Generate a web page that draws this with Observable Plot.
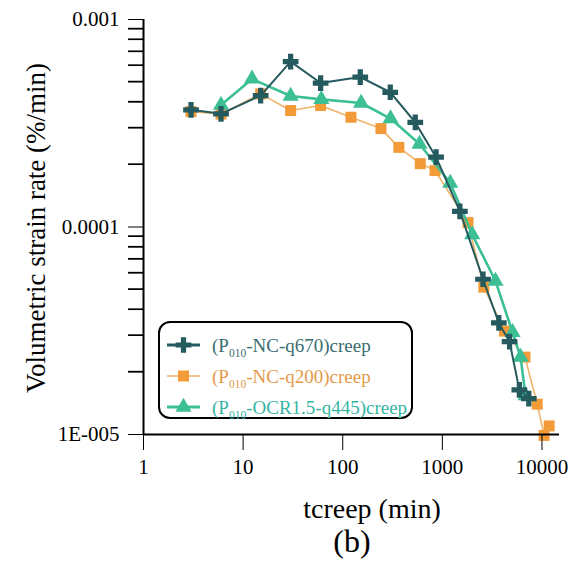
<!DOCTYPE html>
<html><head><meta charset="utf-8">
<script src="https://cdn.jsdelivr.net/npm/d3@7"></script>
<script src="https://cdn.jsdelivr.net/npm/@observablehq/plot@0.6"></script>
<style>body{margin:0;background:#fff;} svg{display:block;} svg text{font-family:"Liberation Serif","DejaVu Serif",serif;}</style>
</head><body><div id="chart"></div>
<script>
// ---- data ----
const q670Time = [3, 6, 15, 30, 60, 150, 300, 535, 865, 1500, 2560, 3690, 4730, 5930, 7380];
const q670Rate = [3.67e-4, 3.51e-4, 4.30e-4, 6.27e-4, 4.94e-4, 5.28e-4, 4.46e-4, 3.19e-4, 2.17e-4, 1.19e-4, 5.60e-5, 3.45e-5, 2.80e-5, 1.64e-5, 1.49e-5];

const q200Time = [3, 6, 15, 30, 60, 121, 242, 366, 600, 845, 1810, 2610, 4210, 6760, 8970, 10500, 11800];
const q200Rate = [3.60e-4, 3.50e-4, 4.38e-4, 3.64e-4, 3.85e-4, 3.38e-4, 2.98e-4, 2.42e-4, 2.02e-4, 1.87e-4, 1.05e-4, 5.13e-5, 3.15e-5, 2.36e-5, 1.40e-5, 0.99e-5, 1.10e-5];

const q445Time = [6, 12.3, 30, 61, 153, 302, 590, 1200, 1995, 3420, 5070, 6100, 6840];
const q445Rate = [3.87e-4, 5.17e-4, 4.28e-4, 4.12e-4, 3.96e-4, 3.33e-4, 2.51e-4, 1.63e-4, 9.2e-5, 5.49e-5, 3.11e-5, 2.36e-5, 1.54e-5];

const seriesNames = ["(P010-NC-q670)creep", "(P010-NC-q200)creep", "(P010-OCR1.5-q445)creep"];
const xTicks = [1, 10, 100, 1000, 10000];
const xTickLabels = ["1", "10", "100", "1000", "10000"];
const yMajorTicks = [1e-5, 1e-4, 1e-3];
const yTickLabels = ["1E-005", "0.0001", "0.001"];
const xTitle = "tcreep (min)";
const yTitle = "Volumetric strain rate (%/min)";
const panelLabel = "(b)";

// ---- styles ----
const colCross = "#255a5e", colSquare = "#f39b38", colSquareLine = "#efb36a", colTri = "#3cbf95";
const serif = "Liberation Serif, DejaVu Serif, serif";

const toRows = (t, v) => t.map((d, i) => ({t: d, v: v[i]}));
const q670 = toRows(q670Time, q670Rate);
const q200 = toRows(q200Time, q200Rate);
const q445 = toRows(q445Time, q445Rate);

// minor ticks for the log y axis (2..9 x each decade)
const yMinorTicks = [];
for (let e = -5; e < -3; e++) for (let k = 2; k < 10; k++) yMinorTicks.push(+(k * Math.pow(10, e)).toPrecision(3));
const yLab = new Map(yMajorTicks.map((v, i) => [v, yTickLabels[i]]));
const xLab = new Map(xTicks.map((v, i) => [v, xTickLabels[i]]));

const plot = Plot.plot({
  width: 584, height: 570,
  marginLeft: 143, marginRight: 25, marginTop: 19, marginBottom: 136,
  style: {fontFamily: serif, fontSize: "21px", color: "black", background: "white"},
  x: {type: "log", domain: [1, 15000]},
  y: {type: "log", domain: [1e-5, 1e-3]},
  marks: [
    Plot.line(q200, {x: "t", y: "v", stroke: colSquareLine, strokeWidth: 1.6}),
    Plot.dot(q200, {x: "t", y: "v", symbol: "square", r: 6.2, fill: colSquare, stroke: "none"}),
    Plot.line(q445, {x: "t", y: "v", stroke: colTri, strokeWidth: 2.6}),
    Plot.dot(q445, {x: "t", y: "v", symbol: "triangle", r: 6, fill: colTri, stroke: "none"}),
    Plot.line(q670, {x: "t", y: "v", stroke: colCross, strokeWidth: 2}),
    Plot.dot(q670, {x: "t", y: "v", symbol: "cross", r: 6.6, fill: colCross, stroke: "none"}),
    Plot.axisX({ticks: xTicks, tickFormat: d => xLab.get(d), tickSize: 16, tickPadding: 9, label: null, fontSize: 21}),
    Plot.axisY({ticks: yMajorTicks, tickFormat: d => yLab.get(d), tickSize: 15, tickPadding: 9, label: null, fontSize: 21}),
    Plot.axisY({ticks: yMinorTicks, tickFormat: d => "", tickSize: 15, label: null}),
    Plot.ruleX([1], {strokeWidth: 2}),
    Plot.ruleY([1e-5], {strokeWidth: 2})
  ]
});
document.getElementById("chart").append(plot);

const svg = d3.select(plot);
const yScale = plot.scale("y");
const xScale = plot.scale("x");

// ---- titles ----
svg.append("text").attr("transform", "translate(45,228) rotate(-90)")
  .attr("text-anchor", "middle").attr("font-family", serif).attr("font-size", 27).attr("fill", "black").text(yTitle);
svg.append("text").attr("x", 372).attr("y", 518)
  .attr("text-anchor", "middle").attr("font-family", serif).attr("font-size", 28).attr("fill", "black").text(xTitle);
svg.append("text").attr("x", 352).attr("y", 552)
  .attr("text-anchor", "middle").attr("font-family", serif).attr("font-size", 32).attr("fill", "black").text(panelLabel);

// ---- legend ----
const lg = svg.append("g");
lg.append("rect").attr("x", 159).attr("y", 322).attr("width", 253).attr("height", 96).attr("rx", 11)
  .attr("fill", "white").attr("stroke", "black").attr("stroke-width", 2);
const legendItems = [
  {name: seriesNames[0], line: colCross, lw: 3, fill: colCross, sym: d3.symbolCross, size: Math.PI * 6.6 * 6.6, text: "#3a6c70"},
  {name: seriesNames[1], line: colSquareLine, lw: 1.6, fill: colSquare, sym: d3.symbolSquare, size: Math.PI * 6.2 * 6.2, text: "#e49a4a"},
  {name: seriesNames[2], line: colTri, lw: 3, fill: colTri, sym: d3.symbolTriangle, size: Math.PI * 6 * 6, text: "#36b5a3"}
];
legendItems.forEach((it, i) => {
  const cy = 345 + i * 31;
  lg.append("line").attr("x1", 167).attr("x2", 200).attr("y1", cy).attr("y2", cy).attr("stroke", it.line).attr("stroke-width", it.lw);
  lg.append("path").attr("d", d3.symbol(it.sym, it.size)()).attr("transform", `translate(183.5,${cy})`).attr("fill", it.fill);
  const m = it.name.match(/^\(P(010)(.*)$/);
  const t = lg.append("text").attr("x", 212).attr("y", cy + 7).attr("text-anchor", "start")
    .attr("font-family", serif).attr("font-size", 19).attr("fill", it.text);
  t.append("tspan").text("(P");
  t.append("tspan").attr("font-size", 11.5).attr("dy", 5).text(m[1]);
  t.append("tspan").attr("dy", -5).text(m[2]);
});

// minor y ticks again on top, placed with Plot's own scales
const x0 = xScale.apply(1);
yMinorTicks.forEach(v => {
  const yy = yScale.apply(v);
  svg.append("line").attr("x1", x0 - 15).attr("x2", x0).attr("y1", yy).attr("y2", yy)
    .attr("stroke", "black").attr("stroke-width", 1.4);
});
</script>
</body></html>
